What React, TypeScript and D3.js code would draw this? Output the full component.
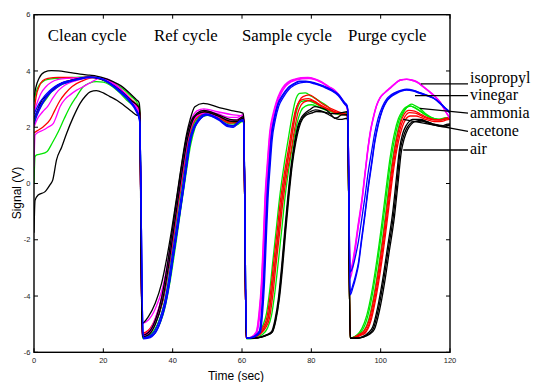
import React from 'react';
import * as d3 from 'd3';

type Pt = [number, number];

// ---------- axis / text data ----------
const X_TICKS = [0, 20, 40, 60, 80, 100, 120];
const Y_TICKS = [-6, -4, -2, 0, 2, 4, 6];
const CYCLE_LABELS = ['Clean cycle', 'Ref cycle', 'Sample cycle', 'Purge cycle'];
const CYCLE_LABEL_T = [4.0, 34.6, 60.0, 90.6];
const LEGEND_LABELS = ['isopropyl', 'vinegar', 'ammonia', 'acetone', 'air'];
const LEGEND_ANCHOR_T = [111.6, 109.9, 111.3, 106.5, 106.5];
const LEGEND_ANCHOR_V = [3.54, 3.12, 2.67, 2.28, 1.19];
const LEGEND_END_V = [3.54, 3.12, 2.5, 1.85, 1.19];
const LEGEND_TEXT_V = [3.555, 2.958, 2.318, 1.671, 1.049];

// ---------- series data (time s, signal V) ----------
const AIR_RUN_1: Pt[] = [
  [0,3.05],[0.5,3.4],[1.5,3.75],[3,3.96],[5,4.01],[7,4.0],[10,3.95],[13.3,3.89],[16,3.85],[18,3.82],[20.5,3.74],[22.8,3.62],[25,3.48],[27.7,3.2],[29.5,2.98],[30.3,2.88],
  [30.5,2.7],[31.1,-4.97],[33,-4.73],[35,-4.25],[36.8,-3.55],[38.3,-2.65],[39.7,-1.65],[41.2,-0.45],[42.6,0.72],[44,1.75],[45,2.26],[46.4,2.73],[48.8,2.85],[53.2,2.71],[57,2.59],[60.3,2.5],
  [60.5,2.3],[61.2,-5.5],[63,-5.5],[65.5,-5.45],[67,-5.38],[68.5,-5.27],[69.5,-4.85],[70.5,-4.08],[71.4,-3.0],[72.3,-1.71],[73.2,-0.5],[74.2,0.66],[75.2,1.5],[76.2,2.08],[77.2,2.36],[78.1,2.49],[79.5,2.62],[81,2.73],[82.5,2.7],[84.3,2.61],[85.5,2.48],[86.7,2.32],[87.8,2.36],[88.7,2.44],[90.3,2.45],
  [90.5,2.3],[91.2,-5.5],[93,-5.5],[95,-5.45],[96.5,-5.35],[97.9,-5.15],[99.3,-4.5],[100.8,-3.49],[102.2,-2.35],[103.7,-1.12],[104.7,0.0],[105.6,1.13],[106.5,1.65],[107.5,1.96],[108.4,2.12],[109.4,2.2],[111.8,2.22],[113.5,2.15],[115.2,2.08],[116.8,2.04],[118.1,2.02],[119,2.05],[120,2.08],
];
const AIR_RUN_2: Pt[] = [
  [0,-1.75],[0.3,-0.6],[1.2,-0.41],[3.2,-0.29],[4.6,-0.05],[5.4,0.12],[6.5,0.84],[8,1.3],[9.4,1.78],[11.3,2.35],[13.3,2.85],[14.8,3.1],[16.2,3.26],[18,3.3],[20,3.22],[21.9,3.09],[24,2.95],[25.8,2.79],[28,2.58],[29.6,2.43],[30.3,2.4],
  [30.5,2.25],[31.2,-5.45],[33,-5.38],[35,-5.0],[37,-4.2],[38.6,-3.1],[40,-1.9],[41.5,-0.6],[43,0.65],[44.3,1.6],[45.5,2.15],[47,2.45],[49.2,2.55],[53,2.4],[56.5,2.22],[58.5,2.2],[60.3,2.32],
  [60.5,2.2],[61.2,-5.5],[63,-5.5],[65.8,-5.45],[67.3,-5.38],[68.8,-5.27],[69.8,-4.85],[70.8,-4.08],[71.7,-3.0],[72.6,-1.71],[73.5,-0.5],[74.5,0.66],[75.5,1.45],[76.5,2.0],[77.5,2.3],[78.4,2.42],[80,2.5],[81.5,2.56],[83,2.55],[85,2.5],[87,2.48],[88.7,2.52],[90.3,2.55],
  [90.5,2.4],[91.2,-5.5],[93,-5.5],[95.3,-5.45],[96.8,-5.36],[98.2,-5.18],[99.6,-4.55],[101.1,-3.55],[102.5,-2.4],[104,-1.15],[105,0.0],[105.9,1.08],[106.8,1.6],[107.8,1.92],[108.8,2.1],[109.8,2.2],[112,2.24],[113.7,2.18],[115.4,2.1],[117,2.05],[118.3,2.03],[119.2,2.06],[120,2.1],
];
const AIR_RUN_3: Pt[] = [
  [0,2.3],[1,2.6],[2,2.9],[3.5,3.1],[5,3.3],[7,3.5],[10,3.65],[13,3.74],[16,3.78],[19,3.72],[22,3.55],[25,3.3],[28,2.95],[30.3,2.7],
  [30.5,2.5],[31.2,-5.4],[33,-5.3],[35,-4.85],[36.9,-4.0],[38.4,-2.95],[39.8,-1.75],[41.3,-0.45],[42.8,0.8],[44.1,1.7],[45.3,2.2],[47,2.5],[49,2.6],[53,2.45],[56.5,2.28],[58.5,2.25],[60.3,2.38],
  [60.5,2.2],[61.2,-5.5],[63,-5.5],[65.6,-5.46],[67.1,-5.4],[68.6,-5.3],[69.6,-4.9],[70.6,-4.15],[71.5,-3.05],[72.4,-1.78],[73.3,-0.55],[74.3,0.6],[75.3,1.45],[76.3,2.02],[77.3,2.3],[78.2,2.45],[79.6,2.55],[81.2,2.62],[82.8,2.58],[84.5,2.48],[86,2.38],[87.3,2.3],[88.5,2.28],[90.3,2.32],
  [90.5,2.2],[91.2,-5.5],[93,-5.5],[94.8,-5.44],[96.3,-5.32],[97.7,-5.1],[99.1,-4.42],[100.6,-3.4],[102,-2.25],[103.5,-1.0],[104.5,0.15],[105.4,1.2],[106.3,1.75],[107.3,2.05],[108.2,2.2],[109.2,2.28],[111.5,2.28],[113.3,2.2],[115,2.12],[116.6,2.08],[118,2.06],[119,2.1],[120,2.12],
];

const ACETONE_RUN_1: Pt[] = [
  [0,2.5],[0.6,3.08],[1.5,3.45],[2.5,3.65],[4,3.74],[7,3.77],[10,3.77],[13,3.76],[16,3.78],[19,3.74],[22,3.58],[25,3.35],[28,3.0],[30.3,2.65],
  [30.5,2.5],[31.2,-5.32],[33,-5.22],[35,-4.8],[37,-4.0],[38.6,-2.95],[40.1,-1.75],[41.6,-0.45],[43.1,0.75],[44.4,1.68],[45.6,2.18],[47.2,2.45],[49.3,2.55],[53,2.42],[56.5,2.22],[58.5,2.22],[60.3,2.35],
  [60.5,2.2],[61.2,-5.5],[63,-5.48],[65,-5.35],[66.3,-5.15],[67.5,-4.79],[68.5,-3.95],[69.4,-2.9],[70.4,-1.8],[71.3,-0.76],[72.5,0.3],[73.8,1.25],[74.8,2.05],[75.7,2.67],[76.6,2.95],[77.6,3.09],[79.5,3.15],[81.2,3.02],[82.9,2.85],[84.8,2.72],[86.7,2.61],[88.5,2.52],[90.3,2.45],
  [90.5,2.3],[91.2,-5.5],[92.5,-5.47],[94,-5.38],[95.3,-5.3],[96.9,-4.9],[98.3,-4.12],[99.8,-3.0],[101.2,-1.75],[102.4,-0.55],[103.6,0.6],[104.8,1.5],[106,2.1],[107,2.38],[108.3,2.52],[110,2.5],[111.5,2.42],[113,2.33],[114.5,2.28],[116,2.25],[117.5,2.25],[119,2.3],[120,2.32],
];
const ACETONE_RUN_2: Pt[] = [
  [0,1.8],[1,1.88],[2.7,2.02],[4.6,2.26],[6,2.6],[7.5,2.95],[9,3.2],[11,3.45],[14,3.65],[17,3.76],[20,3.72],[23,3.52],[26,3.2],[28.5,2.85],[30.3,2.6],
  [30.5,2.45],[31.2,-5.4],[33,-5.33],[35,-4.95],[37.2,-4.15],[38.8,-3.05],[40.3,-1.85],[41.8,-0.55],[43.3,0.65],[44.6,1.6],[45.8,2.12],[47.5,2.4],[49.5,2.5],[53,2.36],[56.5,2.15],[58.5,2.17],[60.3,2.3],
  [60.5,2.15],[61.2,-5.5],[63,-5.48],[65.3,-5.35],[66.7,-5.15],[67.9,-4.8],[68.9,-3.95],[69.8,-2.9],[70.8,-1.8],[71.7,-0.76],[72.9,0.3],[74.2,1.2],[75.2,1.95],[76.1,2.5],[77,2.78],[78,2.9],[79.8,2.95],[81.5,2.85],[83.2,2.72],[85,2.62],[86.8,2.52],[88.5,2.46],[90.3,2.42],
  [90.5,2.3],[91.2,-5.5],[92.5,-5.48],[94.2,-5.4],[95.5,-5.32],[97.1,-4.92],[98.5,-4.15],[100,-3.05],[101.4,-1.8],[102.6,-0.6],[103.8,0.55],[105,1.42],[106.2,2.0],[107.2,2.28],[108.5,2.4],[110.2,2.4],[111.7,2.34],[113.2,2.27],[114.7,2.22],[116.2,2.2],[117.7,2.21],[119,2.26],[120,2.28],
];
const ACETONE_RUN_3: Pt[] = [
  [0,2.35],[1,2.55],[2,2.8],[3.5,3.05],[5,3.3],[7,3.5],[10,3.65],[13,3.73],[16,3.78],[19,3.73],[22,3.56],[25,3.3],[28,2.95],[30.3,2.62],
  [30.5,2.45],[31.2,-5.36],[33,-5.28],[35,-4.88],[37.1,-4.08],[38.7,-3.0],[40.2,-1.8],[41.7,-0.5],[43.2,0.7],[44.5,1.64],[45.7,2.15],[47.3,2.42],[49.4,2.52],[53,2.4],[56.5,2.2],[58.5,2.2],[60.3,2.32],
  [60.5,2.15],[61.2,-5.5],[63,-5.47],[64.8,-5.33],[66,-5.12],[67.2,-4.75],[68.2,-3.9],[69.1,-2.85],[70.1,-1.75],[71,-0.7],[72.2,0.35],[73.5,1.3],[74.5,2.05],[75.4,2.6],[76.3,2.87],[77.3,2.98],[79.2,3.02],[81,2.92],[82.8,2.78],[84.7,2.66],[86.6,2.56],[88.5,2.49],[90.3,2.44],
  [90.5,2.3],[91.2,-5.5],[92.5,-5.46],[93.8,-5.36],[95.1,-5.26],[96.7,-4.85],[98.1,-4.05],[99.6,-2.92],[101,-1.68],[102.2,-0.48],[103.4,0.68],[104.6,1.58],[105.8,2.18],[106.8,2.47],[108.1,2.6],[109.8,2.57],[111.3,2.48],[112.8,2.38],[114.3,2.31],[115.8,2.27],[117.3,2.27],[118.8,2.32],[120,2.35],
];

const AMMONIA_RUN_1: Pt[] = [
  [0,2.9],[0.6,3.25],[1.5,3.5],[2.5,3.62],[4,3.7],[7,3.74],[10,3.76],[13,3.78],[16,3.79],[19,3.76],[22,3.62],[25,3.42],[28,3.1],[30.3,2.75],
  [30.5,2.6],[31.3,-5.45],[33,-5.42],[35,-5.15],[37.3,-4.4],[39,-3.35],[40.5,-2.15],[42,-0.85],[43.5,0.4],[44.9,1.45],[46.2,2.05],[47.8,2.38],[49.8,2.48],[53,2.35],[56.5,2.12],[58.5,2.14],[60.3,2.28],
  [60.5,2.15],[61.2,-5.5],[63,-5.47],[64.8,-5.3],[66,-5.05],[67.1,-4.6],[68,-3.8],[68.9,-2.75],[69.9,-1.6],[70.8,-0.55],[72,0.55],[73.3,1.55],[74.3,2.3],[75.3,2.9],[76.6,3.2],[78.3,3.22],[80,3.1],[81.9,2.97],[83.4,2.85],[84.8,2.73],[86.7,2.5],[88.5,2.44],[90.3,2.45],
  [90.5,2.3],[91.2,-5.5],[92.5,-5.45],[94,-5.35],[95,-5.27],[96.5,-4.85],[97.9,-4.08],[99.4,-2.95],[100.8,-1.71],[102,-0.5],[103.2,0.66],[104.4,1.55],[105.6,2.2],[106.5,2.5],[107.5,2.7],[108.9,2.82],[110,2.76],[111.3,2.67],[112.8,2.5],[114.2,2.38],[115.7,2.3],[117.1,2.26],[118.5,2.3],[120,2.32],
];
const AMMONIA_RUN_2: Pt[] = [
  [0,0.0],[0.3,0.95],[0.8,1.02],[2,1.05],[3.7,1.13],[5.3,1.45],[7,1.84],[8.7,2.3],[10.4,2.73],[12.3,3.1],[14.2,3.44],[16,3.57],[18,3.62],[20,3.6],[21.9,3.5],[24.5,3.25],[26.7,2.97],[28.5,2.78],[30.3,2.6],
  [30.5,2.45],[31.3,-5.5],[33,-5.47],[35.2,-5.25],[37.6,-4.5],[39.3,-3.45],[40.8,-2.25],[42.3,-0.95],[43.8,0.3],[45.2,1.38],[46.5,2.0],[48,2.32],[50,2.42],[53,2.3],[56.5,2.05],[58.5,2.08],[60.3,2.22],
  [60.5,2.1],[61.3,-5.52],[63.5,-5.5],[65.8,-5.38],[67.3,-5.15],[68.5,-4.7],[69.5,-3.85],[70.5,-2.75],[71.5,-1.6],[72.4,-0.5],[73.6,0.6],[74.9,1.55],[76,2.2],[77,2.58],[78.3,2.75],[80,2.8],[82,2.72],[84,2.62],[86,2.55],[88,2.5],[90.3,2.48],
  [90.5,2.3],[91.2,-5.5],[92.5,-5.45],[94,-5.32],[94.8,-5.2],[96.2,-4.75],[97.6,-3.95],[99.1,-2.8],[100.5,-1.55],[101.7,-0.35],[102.9,0.8],[104.1,1.65],[105.3,2.25],[106.3,2.52],[107.3,2.68],[108.6,2.75],[110,2.68],[111.3,2.58],[112.8,2.45],[114.2,2.35],[115.7,2.3],[117.1,2.28],[118.5,2.32],[120,2.35],
];
const AMMONIA_RUN_3: Pt[] = [
  [0,2.2],[1,2.5],[2,2.75],[3.5,3.0],[5,3.25],[7,3.45],[10,3.62],[13,3.72],[16,3.77],[19,3.72],[22,3.55],[25,3.3],[28,2.92],[30.3,2.55],
  [30.5,2.4],[31.3,-5.4],[33,-5.35],[35,-5.0],[37.1,-4.2],[38.8,-3.15],[40.3,-1.95],[41.8,-0.65],[43.3,0.55],[44.7,1.55],[46,2.1],[47.6,2.42],[49.6,2.52],[53,2.4],[56.5,2.18],[58.5,2.2],[60.3,2.3],
  [60.5,2.15],[61.2,-5.5],[63,-5.48],[65.2,-5.35],[66.5,-5.1],[67.7,-4.7],[68.6,-3.85],[69.6,-2.8],[70.6,-1.7],[71.5,-0.62],[72.7,0.45],[74,1.4],[75,2.15],[76,2.68],[77.2,2.92],[79,2.95],[81,2.85],[83,2.72],[85,2.6],[87,2.5],[88.8,2.48],[90.3,2.5],
  [90.5,2.35],[91.2,-5.5],[92.5,-5.44],[93.8,-5.3],[94.6,-5.15],[96,-4.68],[97.4,-3.88],[98.9,-2.72],[100.3,-1.45],[101.5,-0.25],[102.7,0.9],[103.9,1.75],[105.1,2.3],[106.1,2.55],[107.1,2.7],[108.4,2.76],[109.8,2.7],[111.1,2.6],[112.6,2.47],[114,2.37],[115.5,2.31],[117,2.29],[118.5,2.33],[120,2.36],
];

const VINEGAR_RUN_1: Pt[] = [
  [0,2.1],[0.5,2.3],[1.5,2.6],[3,2.95],[4.5,3.2],[6,3.35],[8,3.52],[10,3.6],[13,3.7],[16,3.76],[18,3.76],[20,3.7],[22.5,3.52],[25,3.28],[27.5,2.98],[29.5,2.6],[30.3,2.35],
  [30.5,2.2],[31.5,-5.5],[33,-5.47],[34.9,-5.33],[36.4,-4.95],[37.8,-4.38],[39,-3.6],[40.2,-2.6],[41.7,-1.4],[43.1,-0.23],[44,0.6],[45,1.43],[46.2,1.95],[47.4,2.2],[49.8,2.43],[53.2,2.26],[56,2.02],[57.5,2.0],[59.4,2.2],[60.3,2.23],
  [60.5,2.1],[61.3,-5.5],[63,-5.47],[65.1,-5.27],[65.8,-4.5],[66.3,-3.49],[66.8,-2.0],[67.3,-0.53],[67.9,0.6],[68.5,1.6],[69.4,2.3],[70.4,2.79],[71.8,3.12],[73.3,3.38],[75,3.53],[76.6,3.62],[78.5,3.62],[81,3.56],[83.5,3.45],[85.8,3.32],[87.8,3.15],[89.6,2.85],[90.3,2.75],
  [90.5,2.6],[91.2,-3.96],[92,-3.7],[92.8,-3.35],[93.6,-2.9],[94.5,-2.05],[95.5,-1.12],[96.4,-0.2],[97.4,0.66],[98.3,1.45],[99.3,2.08],[100.5,2.6],[101.7,2.91],[103,3.08],[104.6,3.2],[106,3.28],[107.5,3.32],[109.5,3.28],[111.3,3.2],[113.3,3.12],[115.2,3.03],[117.3,2.82],[119,2.62],[120,2.5],
];
const VINEGAR_RUN_2: Pt[] = [
  [0,2.3],[0.5,2.45],[1.5,2.7],[3,3.0],[4.5,3.25],[6,3.42],[8,3.56],[10,3.62],[13,3.72],[16,3.78],[18,3.77],[20,3.68],[22.5,3.48],[25,3.22],[27.5,2.92],[29.5,2.55],[30.3,2.3],
  [30.5,2.15],[31.5,-5.52],[33,-5.5],[35,-5.3],[36.6,-4.85],[38,-4.22],[39.2,-3.42],[40.4,-2.42],[41.9,-1.2],[43.3,-0.05],[44.2,0.75],[45.2,1.55],[46.4,2.02],[47.6,2.25],[50,2.45],[53.2,2.3],[56,2.05],[57.5,2.04],[59.4,2.22],[60.3,2.25],
  [60.5,2.1],[61.3,-5.5],[63,-5.48],[65.3,-5.28],[66,-4.5],[66.5,-3.5],[67,-2.0],[67.5,-0.55],[68.1,0.58],[68.7,1.55],[69.6,2.25],[70.6,2.74],[72,3.08],[73.5,3.34],[75.2,3.5],[76.8,3.58],[78.7,3.6],[81,3.54],[83.5,3.43],[85.8,3.3],[87.8,3.12],[89.6,2.82],[90.3,2.72],
  [90.5,2.6],[91.2,-3.15],[92,-2.95],[92.8,-2.55],[93.6,-2.05],[94.5,-1.3],[95.5,-0.45],[96.4,0.4],[97.4,1.15],[98.3,1.8],[99.3,2.33],[100.5,2.74],[101.7,3.0],[103,3.15],[104.6,3.26],[106,3.32],[107.5,3.35],[109.5,3.31],[111.3,3.23],[113.3,3.14],[115.2,3.05],[117.3,2.85],[119,2.65],[120,2.55],
];
const VINEGAR_RUN_3: Pt[] = [
  [0,2.45],[0.5,2.6],[1.5,2.85],[3,3.1],[4.5,3.3],[6,3.45],[8,3.58],[10,3.65],[13,3.73],[16,3.78],[18,3.76],[20,3.7],[22.5,3.5],[25,3.25],[27.5,2.95],[29.5,2.62],[30.3,2.4],
  [30.5,2.25],[31.5,-5.48],[33,-5.44],[34.8,-5.25],[36.2,-4.85],[37.6,-4.25],[38.8,-3.45],[40,-2.45],[41.5,-1.25],[42.9,-0.08],[43.8,0.72],[44.8,1.52],[46,2.0],[47.2,2.25],[49.6,2.47],[53.2,2.3],[56,2.08],[57.5,2.06],[59.4,2.24],[60.3,2.27],
  [60.5,2.15],[61.3,-5.5],[63,-5.46],[65,-5.25],[65.7,-4.45],[66.2,-3.45],[66.7,-1.95],[67.2,-0.48],[67.8,0.65],[68.4,1.65],[69.3,2.33],[70.3,2.82],[71.7,3.15],[73.2,3.4],[74.9,3.55],[76.5,3.64],[78.4,3.64],[81,3.58],[83.5,3.47],[85.8,3.34],[87.8,3.17],[89.6,2.88],[90.3,2.78],
  [90.5,2.65],[91.2,-3.85],[92,-3.6],[92.8,-3.25],[93.6,-2.8],[94.5,-1.95],[95.5,-1.02],[96.4,-0.1],[97.4,0.75],[98.3,1.52],[99.3,2.14],[100.5,2.64],[101.7,2.94],[103,3.11],[104.6,3.23],[106,3.3],[107.5,3.34],[109.5,3.3],[111.3,3.22],[113.3,3.13],[115.2,3.04],[117.3,2.84],[119,2.64],[120,2.52],
];

const ISOPROPYL_RUN_1: Pt[] = [
  [0,0.6],[0.3,1.72],[1,1.8],[2.7,1.9],[4,2.0],[5.6,2.14],[6.5,2.4],[7.5,2.73],[9,3.0],[10.4,3.15],[12.3,3.32],[14.2,3.44],[16.5,3.6],[19,3.74],[21,3.72],[23,3.58],[25.5,3.3],[28,2.95],[30.3,2.55],
  [30.5,2.4],[31.2,-4.97],[33,-4.85],[35,-4.45],[37,-3.75],[38.6,-2.8],[40.2,-1.6],[41.6,-0.35],[43,0.85],[44.3,1.8],[45.5,2.3],[47,2.58],[49,2.65],[53,2.55],[57,2.45],[60.3,2.4],
  [60.5,2.25],[61.2,-5.5],[62.5,-5.47],[64.1,-5.27],[64.9,-4.6],[65.6,-3.49],[66.1,-2.1],[66.6,-0.53],[67.3,0.75],[68,1.84],[69,2.5],[69.9,2.91],[71,3.25],[72.3,3.5],[73.8,3.65],[75.2,3.71],[77,3.76],[79,3.77],[81,3.72],[82.9,3.62],[85,3.45],[86.7,3.32],[88.3,3.1],[89.6,2.85],[90.3,2.7],
  [90.5,2.55],[91.2,-3.37],[91.8,-3.1],[92.6,-2.42],[93.5,-1.6],[94.5,-0.76],[95.5,0.3],[96.4,1.25],[97.1,1.85],[97.9,2.32],[98.8,2.75],[99.8,3.03],[101.2,3.22],[102.7,3.38],[104.2,3.55],[105.6,3.68],[107.5,3.71],[109,3.68],[110.4,3.62],[112.3,3.45],[114.2,3.26],[115.7,3.1],[117.1,2.91],[118.5,2.62],[120,2.3],
];
const ISOPROPYL_RUN_2: Pt[] = [
  [0,2.55],[1,2.9],[2,3.2],[3.5,3.45],[5,3.6],[7,3.7],[10,3.74],[13,3.76],[16,3.78],[19,3.75],[22,3.58],[25,3.33],[28,2.95],[30.3,2.5],
  [30.5,2.35],[31.2,-5.38],[33,-5.28],[35,-4.8],[37,-3.95],[38.5,-2.9],[40,-1.7],[41.5,-0.4],[43,0.8],[44.3,1.7],[45.5,2.2],[47,2.5],[49,2.6],[53,2.48],[56.5,2.35],[58.5,2.35],[60.3,2.45],
  [60.5,2.3],[61.2,-5.5],[62.5,-5.48],[64.3,-5.3],[65.2,-4.6],[65.9,-3.5],[66.4,-2.1],[66.9,-0.55],[67.6,0.7],[68.3,1.75],[69.3,2.42],[70.2,2.85],[71.3,3.2],[72.6,3.45],[74,3.6],[75.5,3.67],[77.3,3.72],[79.3,3.73],[81.2,3.68],[83,3.58],[85,3.42],[86.7,3.28],[88.3,3.07],[89.6,2.83],[90.3,2.7],
  [90.5,2.55],[91.2,-3.07],[91.8,-2.85],[92.6,-2.25],[93.5,-1.45],[94.5,-0.62],[95.5,0.42],[96.4,1.35],[97.1,1.92],[97.9,2.38],[98.8,2.78],[99.8,3.05],[101.2,3.24],[102.7,3.4],[104.2,3.56],[105.6,3.67],[107.5,3.7],[109,3.67],[110.4,3.6],[112.3,3.43],[114.2,3.24],[115.7,3.08],[117.1,2.9],[118.5,2.6],[120,2.32],
];
const ISOPROPYL_RUN_3: Pt[] = [
  [0,2.0],[1,2.3],[2.5,2.55],[4,2.75],[5.5,3.05],[7,3.3],[9,3.5],[12,3.65],[15,3.75],[18,3.77],[21,3.68],[24,3.45],[27,3.1],[30.3,2.48],
  [30.5,2.33],[31.2,-5.42],[33,-5.35],[35,-4.95],[37,-4.15],[38.7,-3.05],[40.2,-1.8],[41.7,-0.5],[43.2,0.7],[44.5,1.65],[45.7,2.15],[47.3,2.42],[49.3,2.5],[53,2.38],[56.5,2.25],[58.5,2.27],[60.3,2.38],
  [60.5,2.25],[61.2,-5.5],[62.5,-5.47],[64.2,-5.28],[65,-4.6],[65.7,-3.5],[66.2,-2.1],[66.7,-0.55],[67.4,0.72],[68.1,1.8],[69.1,2.46],[70,2.88],[71.1,3.22],[72.4,3.47],[73.9,3.62],[75.3,3.69],[77.1,3.74],[79.1,3.75],[81.1,3.7],[83,3.6],[85,3.44],[86.7,3.3],[88.3,3.08],[89.6,2.84],[90.3,2.7],
  [90.5,2.55],[91.2,-3.2],[91.8,-2.96],[92.6,-2.33],[93.5,-1.52],[94.5,-0.7],[95.5,0.36],[96.4,1.3],[97.1,1.88],[97.9,2.35],[98.8,2.76],[99.8,3.04],[101.2,3.23],[102.7,3.39],[104.2,3.55],[105.6,3.67],[107.5,3.7],[109,3.67],[110.4,3.61],[112.3,3.44],[114.2,3.25],[115.7,3.09],[117.1,2.9],[118.5,2.61],[120,2.31],
];

// drawing order (bottom to top)
const GASES = [
  { name: 'ammonia', color: '#00e600', runs: [AMMONIA_RUN_1, AMMONIA_RUN_2, AMMONIA_RUN_3] },
  { name: 'acetone', color: '#ff0000', runs: [ACETONE_RUN_1, ACETONE_RUN_2, ACETONE_RUN_3] },
  { name: 'isopropyl', color: '#ff00ff', runs: [ISOPROPYL_RUN_1, ISOPROPYL_RUN_2, ISOPROPYL_RUN_3] },
  { name: 'air', color: '#000000', runs: [AIR_RUN_1, AIR_RUN_2, AIR_RUN_3] },
  { name: 'vinegar', color: '#0000ff', runs: [VINEGAR_RUN_1, VINEGAR_RUN_2, VINEGAR_RUN_3] },
];

const W = 533;
const H = 382;
const LEFT = 34;
const RIGHT = 450;
const TOP = 14.7;
const BOTTOM = 352.3;
const SANS = '"Liberation Sans", Arial, Helvetica, sans-serif';
const SERIF = '"Liberation Serif", "Times New Roman", Times, serif';

export default function App() {
  const x = d3.scaleLinear().domain([0, 120]).range([LEFT, RIGHT]);
  const y = d3.scaleLinear().domain([-6, 6]).range([BOTTOM, TOP]);
  const line = d3
    .line<Pt>()
    .x((d) => x(d[0]))
    .y((d) => y(d[1]))
    .curve(d3.curveMonotoneX);
  const tickLen = 4;

  return (
    <div style={{ position: 'absolute', left: 0, top: 0 }}>
      <svg width={W} height={H} style={{ display: 'block', background: '#fff' }}>
        <defs>
          <clipPath id="plot-clip">
            <rect x={LEFT} y={TOP} width={RIGHT - LEFT} height={BOTTOM - TOP} />
          </clipPath>
        </defs>

        <g clipPath="url(#plot-clip)">
          {GASES.map((g) =>
            g.runs.map((run, i) => (
              <path
                key={g.name + i}
                d={line(run) || ''}
                fill="none"
                stroke={g.color}
                strokeWidth={1.3}
                strokeLinejoin="round"
              />
            ))
          )}
        </g>

        {/* frame */}
        <rect x={LEFT} y={TOP} width={RIGHT - LEFT} height={BOTTOM - TOP} fill="none" stroke="#000" strokeWidth={1.4} />

        {/* x ticks */}
        {X_TICKS.map((t) => (
          <g key={'xt' + t}>
            <line x1={x(t)} x2={x(t)} y1={BOTTOM} y2={BOTTOM - tickLen} stroke="#000" strokeWidth={1} />
            <line x1={x(t)} x2={x(t)} y1={TOP} y2={TOP + tickLen} stroke="#000" strokeWidth={1} />
            <text x={x(t)} y={BOTTOM + 10.5} textAnchor="middle" fontFamily={SANS} fontSize={7.5} fill="#222">
              {t}
            </text>
          </g>
        ))}

        {/* y ticks */}
        {Y_TICKS.map((v) => (
          <g key={'yt' + v}>
            <line x1={LEFT} x2={LEFT + tickLen} y1={y(v)} y2={y(v)} stroke="#000" strokeWidth={1} />
            <line x1={RIGHT} x2={RIGHT - tickLen} y1={y(v)} y2={y(v)} stroke="#000" strokeWidth={1} />
            <text x={LEFT - 3.5} y={y(v) + 2.7} textAnchor="end" fontFamily={SANS} fontSize={7.5} fill="#222">
              {v}
            </text>
          </g>
        ))}

        {/* axis titles */}
        <text x={236} y={379.5} textAnchor="middle" fontFamily={SANS} fontSize={12} fill="#000">
          Time (sec)
        </text>
        <text
          transform={`translate(21,193) rotate(-90)`}
          textAnchor="middle"
          fontFamily={SANS}
          fontSize={12}
          fill="#000"
        >
          Signal (V)
        </text>

        {/* cycle labels */}
        {CYCLE_LABELS.map((lab, i) => (
          <text key={lab} x={x(CYCLE_LABEL_T[i])} y={40.7} fontFamily={SERIF} fontSize={16.8} fill="#000">
            {lab}
          </text>
        ))}

        {/* legend leaders */}
        {LEGEND_LABELS.map((lab, i) => (
          <g key={lab}>
            <line
              x1={x(LEGEND_ANCHOR_T[i])}
              y1={y(LEGEND_ANCHOR_V[i])}
              x2={468}
              y2={y(LEGEND_END_V[i])}
              stroke="#000"
              strokeWidth={1.3}
            />
            <text x={470} y={y(LEGEND_TEXT_V[i])} fontFamily={SERIF} fontSize={16} fill="#000">
              {lab}
            </text>
          </g>
        ))}
      </svg>
    </div>
  );
}
